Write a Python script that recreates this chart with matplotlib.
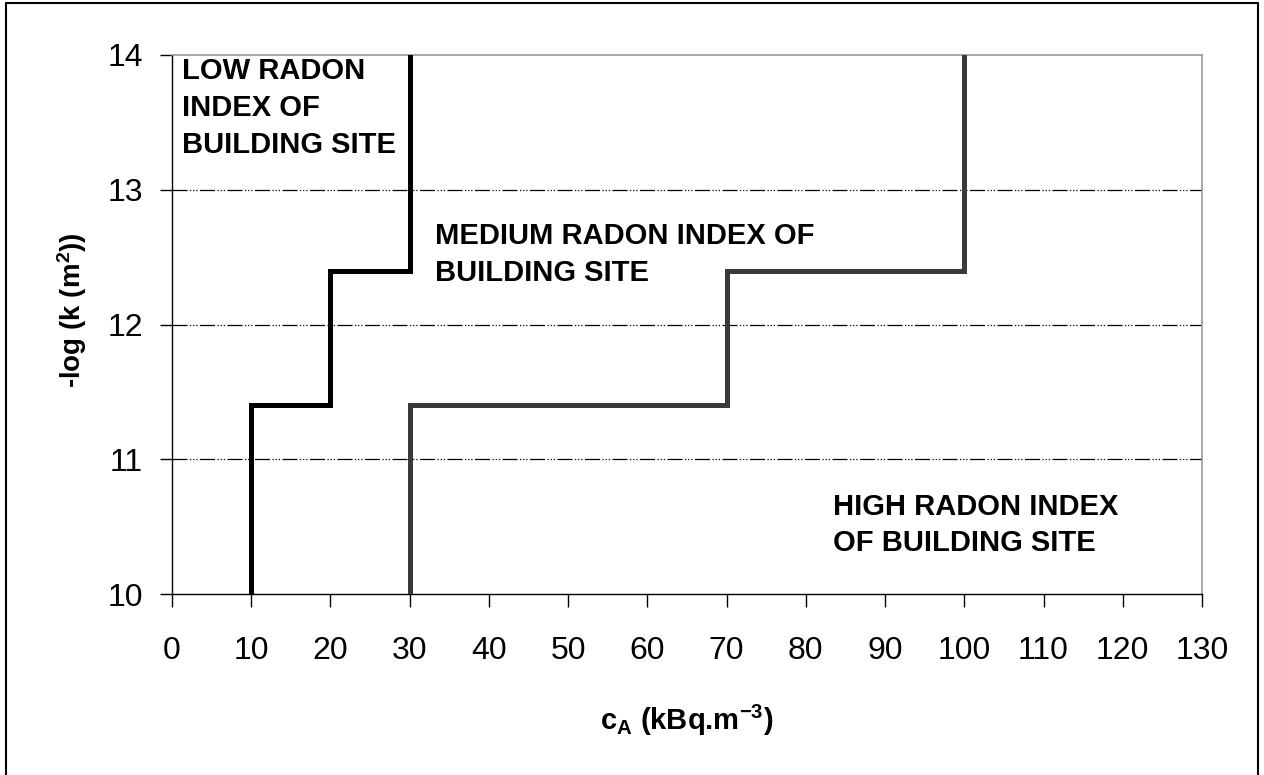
import matplotlib
matplotlib.use("Agg")
import matplotlib.pyplot as plt
from matplotlib.lines import Line2D

plt.rcParams['font.family'] = ['Liberation Sans', 'DejaVu Sans']
plt.rcParams['mathtext.fontset'] = 'custom'
plt.rcParams['mathtext.rm'] = 'Liberation Sans:bold'
plt.rcParams['mathtext.it'] = 'Liberation Sans:bold'
plt.rcParams['mathtext.bf'] = 'Liberation Sans:bold'

# Data
low_x = [10, 10, 20, 20, 30, 30]
low_y = [10, 11.4, 11.4, 12.4, 12.4, 14]
high_x = [30, 30, 70, 70, 100, 100]
high_y = [10, 11.4, 11.4, 12.4, 12.4, 14]
x_ticks = list(range(0, 131, 10))
y_ticks = [10, 11, 12, 13, 14]
grid_y = [11, 12, 13]
label_low = "LOW RADON\nINDEX OF\nBUILDING SITE"
label_med = "MEDIUM RADON INDEX OF\nBUILDING SITE"
label_high = "HIGH RADON INDEX\nOF BUILDING SITE"

fig = plt.figure(figsize=(12.64, 7.75), dpi=100)
W, H = 1264, 775
ax = fig.add_axes([172 / W, 1 - 594 / H, (1202 - 172) / W, (594 - 55) / H])

ax.set_xlim(0, 130)
ax.set_ylim(10, 14)

for gy in grid_y:
    ax.axhline(gy, color='black', lw=0.9, dashes=(12, 2, 1, 1.5, 1, 1.5, 1, 2), zorder=1)

ax.plot(low_x, low_y, color='black', lw=3.6, solid_joinstyle='miter', zorder=3)
ax.plot(high_x, high_y, color='#3a3a3a', lw=3.6, solid_joinstyle='miter', zorder=3)

ax.set_xticks(x_ticks)
ax.set_yticks(y_ticks)
ax.tick_params(axis='x', direction='out', length=9, width=1, labelsize=23, pad=21)
ax.tick_params(axis='y', direction='out', length=9, width=1, labelsize=23, pad=12)

for s in ['left', 'bottom']:
    ax.spines[s].set_color('black')
    ax.spines[s].set_linewidth(1.0)
for s in ['top', 'right']:
    ax.spines[s].set_color('#999999')
    ax.spines[s].set_linewidth(1.2)

ax.text(1.2, 13.985, label_low, fontsize=21, fontweight='bold', va='top', ha='left',
        linespacing=1.4)
ax.text(33.2, 12.76, label_med, fontsize=21, fontweight='bold', va='top', ha='left',
        linespacing=1.4)
ax.text(83.4, 10.75, label_high, fontsize=21, fontweight='bold', va='top', ha='left',
        linespacing=1.36)

fig.text(687 / W, 1 - 720 / H, r'c$_\mathregular{A}$ (kBq.m$^{\mathregular{-3}}$)',
         fontsize=21, fontweight='bold', ha='center', va='center')
fig.text(72 / W, 1 - 310 / H, r'-log (k (m$^{\mathregular{2}}$))',
         fontsize=20, fontweight='bold', ha='center', va='center', rotation=90)

# figure border
fig.add_artist(Line2D([6 / W, 6 / W, 1258 / W, 1258 / W],
                      [0, 1 - 3 / H, 1 - 3 / H, 0], color='black', lw=1.5,
                      transform=fig.transFigure))

fig.savefig('out.png', dpi=100, facecolor='white')
